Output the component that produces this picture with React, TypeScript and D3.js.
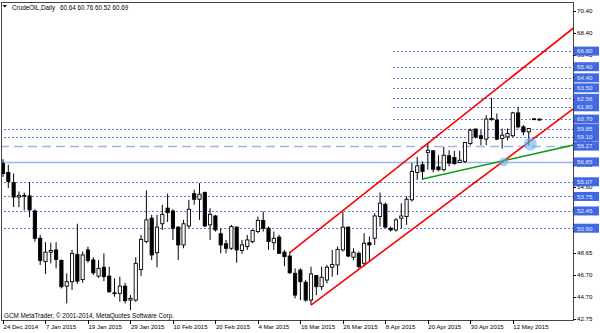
import React from "react";
import * as d3 from "d3";

const W = 600;
const H = 333;

// ---- Data ----
const opens = [
  56.7, 55.9, 55.0, 53.7, 53.85, 53.8, 52.45, 50.0, 47.9, 48.75,
  48.95, 48.0, 45.7, 46.1, 48.55, 46.3, 48.95, 48.05, 46.6, 47.4,
  46.6, 45.1, 45.05, 45.7, 44.45, 44.45, 47.2, 49.7, 51.8, 48.7,
  51.3, 52.7, 52.45, 51.0, 49.4, 51.1, 54.0, 53.5, 54.1, 51.2,
  52.0, 50.4, 49.5, 49.1, 51.0, 48.9, 49.25, 49.7, 50.6, 51.6,
  50.9, 49.6, 50.1, 48.75, 48.4, 46.85, 47.15, 46.05, 44.45, 46.65,
  45.65, 46.25, 47.4, 47.6, 48.95, 51.0, 48.3, 48.65, 47.75, 49.6,
  50.0, 51.95, 53.05, 50.9, 50.75, 51.8, 51.95, 53.45, 55.9, 56.6,
  57.7, 57.85, 56.4, 56.15, 57.4, 57.25, 56.8, 56.9, 58.5, 59.8,
  59.2, 58.9, 60.65, 60.6, 58.95, 59.1, 59.2, 61.25, 60.0, 59.55,
  60.7, 60.64,
];
const highs = [
  57.1, 56.6, 55.8, 54.2, 54.1, 55.05, 52.6, 50.3, 49.65, 49.6,
  49.65, 48.1, 46.85, 48.95, 51.3, 48.8, 49.25, 48.3, 48.05, 48.65,
  47.45, 46.4, 46.55, 46.0, 44.9, 48.3, 50.3, 54.3, 52.1, 52.1,
  53.0, 54.0, 52.6, 51.1, 51.65, 53.45, 54.35, 54.95, 54.2, 52.7,
  52.1, 50.9, 49.85, 51.2, 51.05, 49.85, 50.3, 50.8, 51.95, 52.4,
  51.05, 50.6, 50.3, 48.95, 48.8, 47.3, 47.3, 46.25, 47.45, 46.7,
  47.45, 47.6, 48.95, 49.25, 52.4, 51.05, 49.1, 48.8, 50.45, 50.15,
  52.25, 54.1, 53.2, 51.05, 51.8, 53.15, 53.75, 56.75, 57.3, 56.9,
  58.6, 57.9, 57.45, 58.2, 57.9, 57.85, 57.85, 58.65, 59.85, 59.85,
  59.7, 61.05, 62.6, 61.2, 59.85, 59.85, 61.35, 61.8, 60.15, 59.9,
  60.8, 60.76,
];
const lows = [
  55.5, 54.5, 52.8, 52.8, 52.5, 51.9, 49.7, 47.6, 46.8, 47.75,
  47.3, 45.5, 44.15, 45.35, 45.9, 46.0, 47.8, 46.7, 46.45, 46.15,
  45.1, 44.75, 44.3, 44.15, 43.55, 44.3, 46.6, 49.55, 48.05, 47.4,
  50.75, 51.45, 49.85, 48.05, 49.1, 50.9, 53.0, 51.65, 51.0, 49.85,
  50.6, 48.65, 48.65, 48.95, 47.8, 48.6, 48.95, 49.55, 50.45, 50.6,
  48.95, 48.95, 48.6, 47.5, 46.8, 44.6, 44.45, 44.3, 44.0, 44.9,
  45.35, 45.95, 46.55, 46.7, 48.8, 48.3, 48.05, 47.3, 47.45, 47.9,
  49.4, 51.05, 50.9, 50.6, 50.6, 50.9, 51.2, 53.3, 55.25, 55.25,
  56.15, 55.9, 56.0, 56.0, 56.45, 56.6, 56.75, 56.75, 58.35, 58.95,
  58.35, 58.35, 60.55, 58.8, 58.05, 58.8, 59.1, 59.85, 59.25, 58.35,
  60.6, 60.52,
];
const closes = [
  55.8, 55.1, 53.7, 53.85, 53.8, 52.55, 50.0, 48.0, 48.75, 48.9,
  48.1, 45.65, 46.1, 48.65, 46.15, 48.5, 48.0, 46.9, 47.3, 46.55,
  45.2, 45.05, 45.7, 44.4, 44.6, 47.75, 49.9, 51.65, 48.5, 51.0,
  52.15, 52.3, 50.9, 49.4, 51.3, 52.6, 53.5, 53.95, 51.1, 52.15,
  50.75, 49.4, 49.1, 51.05, 48.95, 49.4, 49.85, 50.7, 51.6, 50.9,
  49.7, 50.0, 48.65, 48.35, 46.9, 44.9, 46.1, 44.45, 46.8, 45.65,
  46.5, 47.4, 47.65, 49.0, 51.0, 48.4, 48.75, 47.45, 49.55, 49.4,
  52.0, 53.15, 51.0, 50.75, 51.65, 52.0, 53.5, 56.0, 56.5, 56.0,
  57.9, 56.2, 56.15, 57.45, 56.75, 56.7, 57.0, 58.6, 59.7, 59.1,
  58.95, 60.7, 60.75, 58.9, 59.25, 59.4, 61.25, 60.0, 59.55, 59.85,
  60.72, 60.69,
];

const dateTickBars = [0, 8, 16, 24, 32, 40, 48, 56, 64, 72, 80, 88, 96];
const dateTickLabels = [
  "24 Dec 2014", "7 Jan 2015", "19 Jan 2015", "29 Jan 2015", "10 Feb 2015",
  "20 Feb 2015", "4 Mar 2015", "16 Mar 2015", "26 Mar 2015", "8 Apr 2015",
  "20 Apr 2015", "30 Apr 2015", "12 May 2015",
];

// regular scale ticks (evenly spaced); "" = hidden under a level label
const priceTickLabels = [
  "42.75", "44.70", "46.70", "48.65", "", "", "54.60", "56.55",
  "58.55", "", "", "", "66.45", "68.40", "70.40",
];
const priceMin = 42.75;
const priceMax = 70.4;

const levelPrices = [66.8, 65.4, 64.4, 63.5, 62.56, 61.8, 60.7, 59.85, 59.1, 58.27, 56.85, 55.07, 53.75, 52.45, 50.9];
const levelLabels = ["66.80", "65.40", "64.40", "63.50", "62.56", "61.80", "60.70", "59.85", "59.10", "58.27", "56.85", "55.07", "53.75", "52.45", "50.90"];
const levelStartBars = [74, 74, 74, 74, 74, 74, 74, 0, 0, 0, 0, 0, 0, 0, 0];

// trend lines: [bar1, price1, bar2, price2]
const upperChannel = [54, 48.7, 96, 64.56];
const lowerChannel = [58, 44.0, 96, 57.55];
const greenLine = [79, 55.32, 101, 57.68];

const markerBars = [94.3, 99.3];
const markerPrices = [56.85, 58.45];

const titleSymbol = "CrudeOIL,Daily";
const titleValues = "60.64 60.76 60.52 60.69";
const copyright = "GCM MetaTrader, \u00A9 2001-2014, MetaQuotes Software Corp.";

// ---- Layout ----
const plotLeft = 1;
const plotRight = 573;
const plotTop = 2;
const plotBottom = 320;

const FONT = "'Liberation Sans', Arial, sans-serif";

export default function App() {
  const x = d3.scaleLinear().domain([0, 96]).range([3, 512.8]);
  const y = d3.scaleLinear().domain([priceMin, priceMax]).range([319, 11]);

  const priceTicks = d3.range(priceTickLabels.length).map(
    (i) => priceMin + (i * (priceMax - priceMin)) / (priceTickLabels.length - 1)
  );

  const bodyW = 3.2;

  const lineGen = d3
    .line<[number, number]>()
    .x((d) => d[0])
    .y((d) => d[1]);

  const extend = (l: number[]) => {
    const [b1, p1, b2, p2] = l;
    const slope = (p2 - p1) / (b2 - b1);
    const bEnd = x.invert(plotRight + 5);
    return lineGen([
      [x(b1), y(p1)],
      [x(bEnd), y(p1 + slope * (bEnd - b1))],
    ]) as string;
  };

  const levelStyle = (i: number) => {
    const p = levelPrices[i];
    if (Math.abs(p - 58.27) < 0.001)
      return { stroke: "#9db5ee", strokeWidth: 1.6, dash: "9,5" };
    if (Math.abs(p - 56.85) < 0.001)
      return { stroke: "#9db5ee", strokeWidth: 1.4, dash: "none" };
    return { stroke: "#5a78dc", strokeWidth: 1, dash: "2,2" };
  };

  return (
    <svg
      width={W}
      height={H}
      style={{ position: "absolute", left: 0, top: 0, background: "#fff" }}
      fontFamily={FONT}
    >
      <defs>
        <clipPath id="plot">
          <rect x={plotLeft} y={plotTop} width={plotRight - plotLeft} height={plotBottom - plotTop} />
        </clipPath>
      </defs>
      <rect x={0} y={0} width={W} height={H} fill="#fff" />

      <g clipPath="url(#plot)">
        {/* horizontal levels */}
        {levelPrices.map((p, i) => {
          const s = levelStyle(i);
          const yy = Math.round(y(p)) + 0.5;
          return (
            <line
              key={"lv" + i}
              x1={x(levelStartBars[i]) - 3}
              x2={plotRight}
              y1={yy}
              y2={yy}
              stroke={s.stroke}
              strokeWidth={s.strokeWidth}
              strokeDasharray={s.dash}
            />
          );
        })}

        {/* candles */}
        {opens.map((o, i) => {
          const c = closes[i];
          const cx = x(i);
          const up = c >= o;
          const top = y(Math.max(o, c));
          const bot = y(Math.min(o, c));
          return (
            <g key={"c" + i}>
              <line x1={cx} x2={cx} y1={y(highs[i])} y2={y(lows[i])} stroke="#000" strokeWidth={1} />
              <rect
                x={cx - bodyW / 2}
                y={top}
                width={bodyW}
                height={Math.max(bot - top, 0.8)}
                fill={up ? "#fff" : "#000"}
                stroke="#000"
                strokeWidth={0.9}
              />
            </g>
          );
        })}

        {/* trend lines */}
        <path d={extend(greenLine)} stroke="#159a15" strokeWidth={1.5} fill="none" />
        <path d={extend(upperChannel)} stroke="#ff0000" strokeWidth={1.6} fill="none" />
        <path d={extend(lowerChannel)} stroke="#ff0000" strokeWidth={1.6} fill="none" />

        {/* touch markers */}
        {markerBars.map((b, i) => (
          <circle
            key={"m" + i}
            cx={x(b)}
            cy={y(markerPrices[i])}
            r={i === 0 ? 4.5 : 6.5}
            fill="#5cb6ee"
            opacity={0.6}
          />
        ))}
      </g>

      {/* frame */}
      <line x1={plotLeft + 0.5} x2={plotLeft + 0.5} y1={plotTop} y2={plotBottom} stroke="#444" />
      <line x1={plotLeft} x2={plotRight} y1={plotTop + 0.5} y2={plotTop + 0.5} stroke="#444" />
      <line x1={plotRight + 0.5} x2={plotRight + 0.5} y1={plotTop} y2={plotBottom + 1} stroke="#444" />
      <line x1={plotLeft} x2={plotRight + 1} y1={plotBottom + 0.5} y2={plotBottom + 0.5} stroke="#444" />

      {/* title */}
      <path d="M2.5,5 L7,5 L4.75,7.6 Z" fill="#000" />
      <text x={12} y={9.5} fontSize={6.3} fill="#000">{titleSymbol}</text>
      <text x={60} y={9.5} fontSize={6.3} fill="#000">{titleValues}</text>

      {/* copyright */}
      <text x={4} y={317.5} fontSize={6.3} fill="#000">{copyright}</text>

      {/* price axis */}
      {priceTicks.map((p, i) => {
        const yy = y(p);
        return (
          <g key={"pt" + i}>
            <line x1={plotRight} x2={plotRight + 3} y1={Math.round(yy) + 0.5} y2={Math.round(yy) + 0.5} stroke="#000" />
            {priceTickLabels[i] !== "" && (
              <text x={577} y={yy + 2.3} fontSize={6.2} fill="#000">{priceTickLabels[i]}</text>
            )}
          </g>
        );
      })}
      {levelPrices.map((p, i) => {
        const yy = y(p);
        return (
          <g key={"lb" + i}>
            <rect x={574} y={yy - 4.5} width={25} height={9} fill="#4169e1" />
            <text x={577} y={yy + 2.3} fontSize={6.2} fill="#e6ecff">{levelLabels[i]}</text>
          </g>
        );
      })}

      {/* date axis */}
      {dateTickBars.map((b, i) => (
        <g key={"dt" + i}>
          <line x1={Math.round(x(b)) + 0.5} x2={Math.round(x(b)) + 0.5} y1={plotBottom} y2={plotBottom + 4} stroke="#000" />
          <text x={x(b) + 0.5} y={328.5} fontSize={6.1} fill="#000">{dateTickLabels[i]}</text>
        </g>
      ))}
    </svg>
  );
}
